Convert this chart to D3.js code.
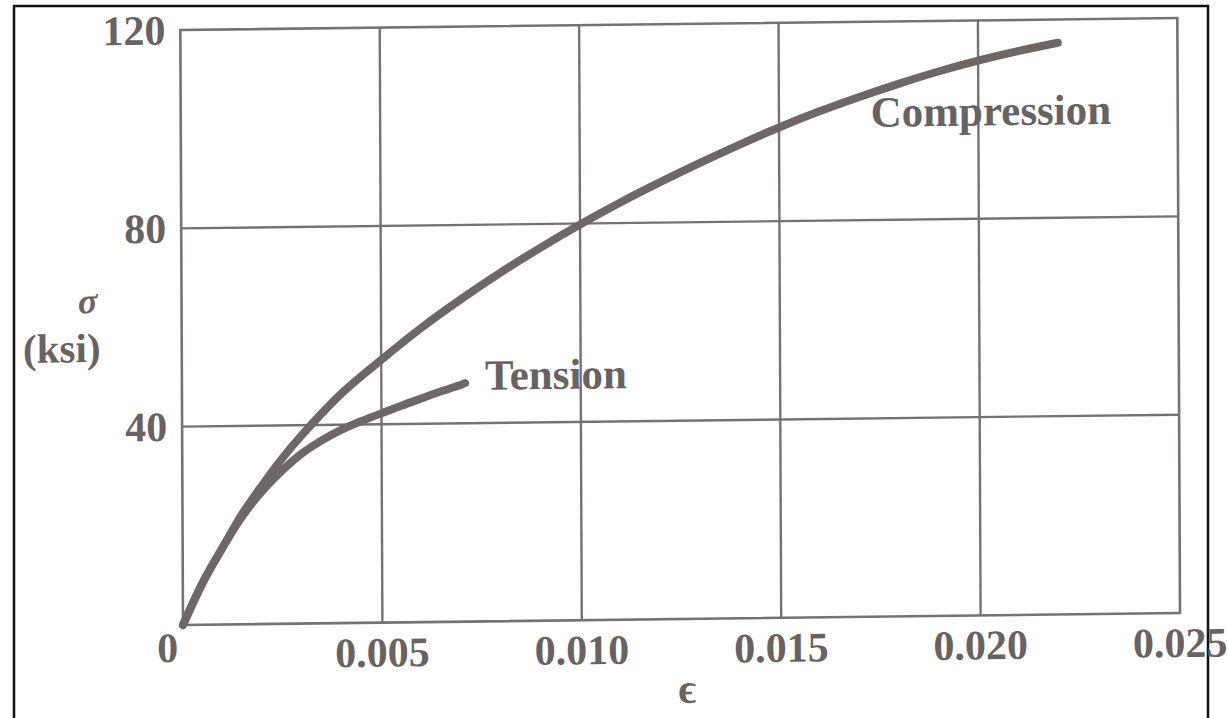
<!DOCTYPE html>
<html>
<head>
<meta charset="utf-8">
<script src="https://cdn.jsdelivr.net/npm/d3@7"></script>
<style>
  html, body { margin: 0; padding: 0; background: #fff; }
  svg { display: block; }
  text { font-family: "Liberation Serif", "Times New Roman", serif; font-weight: bold; fill: #686262; }
</style>
</head>
<body>
<svg id="chart" width="1227" height="718"></svg>
<script>
// Strain (in/in) vs stress (ksi)
const compressionStrain = [0, 0.0005, 0.001, 0.0015, 0.002, 0.0025, 0.003, 0.004, 0.005, 0.006, 0.007, 0.008, 0.009, 0.010, 0.011, 0.012, 0.013, 0.014, 0.015, 0.016, 0.017, 0.018, 0.019, 0.020, 0.021, 0.022];
const compressionStress = [0, 8.5, 15.5, 22.3, 28.0, 33.3, 38.0, 46.3, 53.0, 59.3, 65.0, 70.3, 75.2, 79.8, 84.1, 88.1, 91.9, 95.5, 98.9, 102.0, 104.8, 107.4, 109.8, 111.9, 113.7, 115.3];

const tensionStrain = [0, 0.0005, 0.001, 0.0015, 0.002, 0.0025, 0.003, 0.0035, 0.004, 0.0045, 0.005, 0.0055, 0.006, 0.0065, 0.007, 0.0071];
const tensionStress = [0, 8.5, 15.5, 21.8, 26.8, 30.9, 34.3, 36.9, 39.0, 40.7, 42.2, 43.7, 45.1, 46.5, 47.8, 48.1];

const xTicks = [0.005, 0.010, 0.015, 0.020, 0.025];
const xTickLabels = ["0.005", "0.010", "0.015", "0.020", "0.025"];
const yTicks = [40, 80, 120];
const yTickLabels = ["40", "80", "120"];

const seriesLabels = [
  { text: "Compression", x: 0.0173, y: 98.8 },
  { text: "Tension", x: 0.0076, y: 46.7 }
];

const svg = d3.select("#chart");

// page frame
svg.append("path")
  .attr("d", "M14,730 L14,6 L1208,6 L1208,730")
  .attr("fill", "none")
  .attr("stroke", "#111")
  .attr("stroke-width", 2.5);

const x = d3.scaleLinear().domain([0, 0.025]).range([183, 1180]);
const y = d3.scaleLinear().domain([0, 120]).range([625, 30]);

// the printed figure sits slightly askew on the page
const px = 183, py = 625, kb = -0.012, kc = 0.0045;
const g = svg.append("g")
  .attr("transform", `matrix(1,${kb},${kc},1,${-kc * py},${-kb * px})`);

const gridColor = "#767272";
const lineColor = "#6e6767";

// grid
g.append("g").selectAll("line.v")
  .data(xTicks.slice(0, -1))
  .join("line")
  .attr("x1", d => x(d)).attr("x2", d => x(d))
  .attr("y1", y(0)).attr("y2", y(120))
  .attr("stroke", gridColor).attr("stroke-width", 2.4);

g.append("g").selectAll("line.h")
  .data(yTicks.slice(0, -1))
  .join("line")
  .attr("x1", x(0)).attr("x2", x(0.025))
  .attr("y1", d => y(d)).attr("y2", d => y(d))
  .attr("stroke", gridColor).attr("stroke-width", 2.4);

// plot frame
g.append("rect")
  .attr("x", x(0)).attr("y", y(120))
  .attr("width", x(0.025) - x(0)).attr("height", y(0) - y(120))
  .attr("fill", "none").attr("stroke", gridColor).attr("stroke-width", 2.6);

// curves
const line = d3.line()
  .x(d => x(d[0]))
  .y(d => y(d[1]))
  .curve(d3.curveCatmullRom.alpha(0.5));

const compression = compressionStrain.map((e, i) => [e, compressionStress[i]]);
const tension = tensionStrain.map((e, i) => [e, tensionStress[i]]);

[tension, compression].forEach(data => {
  g.append("path")
    .datum(data)
    .attr("d", line)
    .attr("fill", "none")
    .attr("stroke", lineColor)
    .attr("stroke-width", 8)
    .attr("stroke-linecap", "round");
});

// tick labels
g.append("g").selectAll("text")
  .data(xTicks)
  .join("text")
  .attr("x", d => x(d))
  .attr("y", y(0) + 44)
  .attr("text-anchor", "middle")
  .attr("font-size", 42)
  .text((d, i) => xTickLabels[i]);

g.append("g").selectAll("text")
  .data(yTicks)
  .join("text")
  .attr("x", x(0) - 15)
  .attr("y", d => y(d))
  .attr("dy", "0.34em")
  .attr("text-anchor", "end")
  .attr("font-size", 42)
  .text((d, i) => yTickLabels[i]);

g.append("text")
  .attr("x", x(0) - 5)
  .attr("y", y(0) + 37)
  .attr("text-anchor", "end")
  .attr("font-size", 42)
  .text("0");

// axis titles
g.append("text")
  .attr("x", 89).attr("y", 312)
  .attr("text-anchor", "middle")
  .attr("font-size", 36)
  .attr("font-style", "italic")
  .attr("font-weight", "normal")
  .text("σ");

g.append("text")
  .attr("x", 63).attr("y", 361)
  .attr("text-anchor", "middle")
  .attr("font-size", 41)
  .text("(ksi)");

g.append("text")
  .attr("x", 687).attr("y", 709)
  .attr("text-anchor", "middle")
  .attr("font-size", 42)
  .text("ϵ");

// series labels
g.append("g").selectAll("text")
  .data(seriesLabels)
  .join("text")
  .attr("x", d => x(d.x))
  .attr("y", d => y(d.y))
  .attr("font-size", 43)
  .text(d => d.text);
</script>
</body>
</html>
